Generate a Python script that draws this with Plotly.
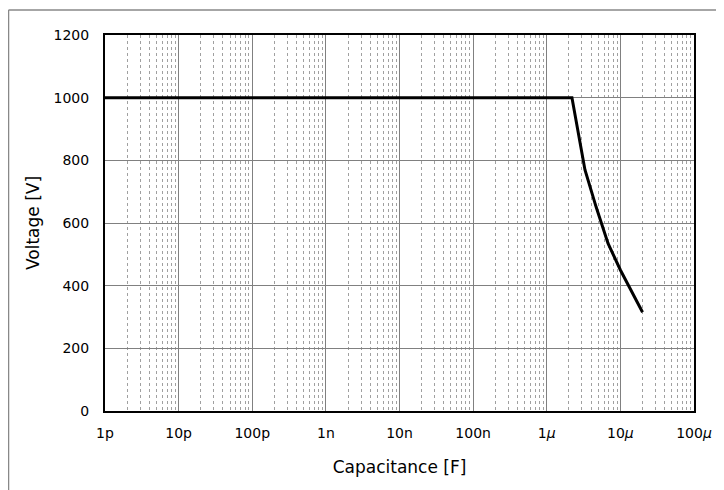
"""Capacitance vs voltage derating chart."""
import plotly.graph_objects as go

# data (capacitance in farads, voltage in volts)
capacitance = [1e-12, 2.2e-6, 3.3e-6, 4.7e-6, 6.8e-6, 10e-6, 20e-6]
voltage = [1000, 1000, 770, 650, 535, 450, 315]

major_ticks = [1e-12, 1e-11, 1e-10, 1e-9, 1e-8, 1e-7, 1e-6, 1e-5, 1e-4]
major_labels = ["1p", "10p", "100p", "1n", "10n", "100n",
                "1<i>\u03bc</i>", "10<i>\u03bc</i>", "100<i>\u03bc</i>"]
minor_ticks = [m * 10.0 ** e for e in range(-12, -4) for m in range(2, 10)]

FONT = "DejaVu Sans"

fig = go.Figure()
fig.add_trace(
    go.Scatter(
        x=capacitance,
        y=voltage,
        mode="lines",
        line=dict(color="black", width=3),
        showlegend=False,
    )
)

# the page body adds an 8px offset, so margins are shifted to compensate
fig.update_layout(
    width=724,
    height=490,
    margin=dict(l=97, r=38, t=27, b=87),
    paper_bgcolor="white",
    plot_bgcolor="white",
    font=dict(family=FONT, size=14, color="black"),
)

fig.update_xaxes(
    type="log",
    range=[-12, -4],
    automargin=False,
    tickmode="array",
    tickvals=major_ticks,
    ticktext=major_labels,
    ticks="outside",
    ticklen=8,
    tickcolor="rgba(0,0,0,0)",
    showgrid=True,
    gridcolor="#808080",
    gridwidth=1,
    minor=dict(
        tickmode="array",
        tickvals=minor_ticks,
        showgrid=True,
        gridcolor="#a0a0a0",
        griddash="dot",
        gridwidth=1,
        ticks="",
    ),
    showline=True,
    linecolor="black",
    linewidth=2,
    mirror=True,
    zeroline=False,
    title=dict(text="Capacitance [F]", font=dict(size=17), standoff=21),
)

fig.update_yaxes(
    range=[0, 1200],
    automargin=False,
    tickmode="array",
    tickvals=[0, 200, 400, 600, 800, 1000, 1200],
    ticks="outside",
    ticklen=11,
    tickcolor="rgba(0,0,0,0)",
    showgrid=True,
    gridcolor="#808080",
    gridwidth=1,
    showline=True,
    linecolor="black",
    linewidth=2,
    mirror=True,
    zeroline=False,
    title=dict(text="Voltage [V]", font=dict(size=17), standoff=10),
)

# outer frame of the chart area: left and top edges (the rest lies off the page)
fig.add_shape(
    type="line", xref="paper", yref="paper",
    x0=-0.1638, x1=-0.1638, y0=-0.3, y1=1.0665,
    line=dict(color="#888888", width=1.5),
    layer="above",
)
fig.add_shape(
    type="line", xref="paper", yref="paper",
    x0=-0.1638, x1=1.1, y0=1.0665, y1=1.0665,
    line=dict(color="#888888", width=1.5),
    layer="above",
)

fig.write_html("out.html")
